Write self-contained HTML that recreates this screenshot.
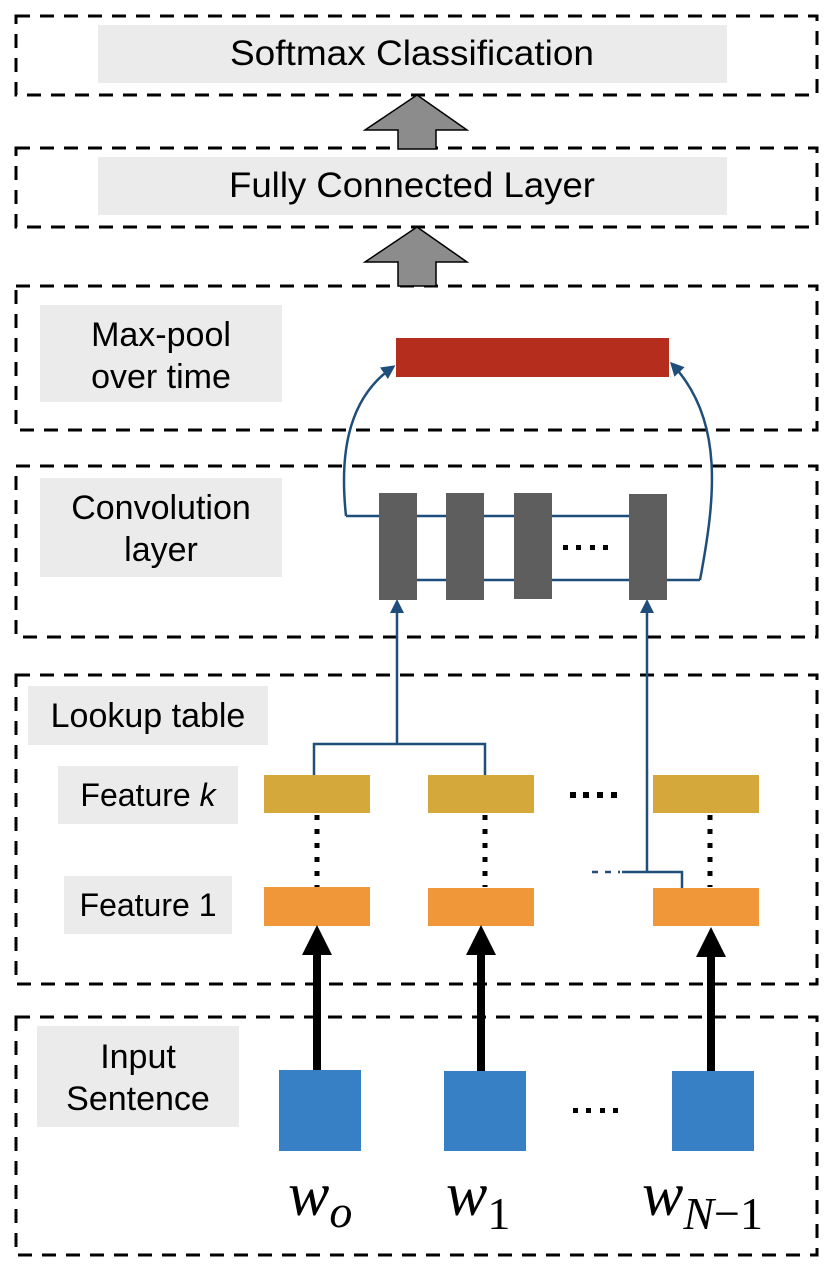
<!DOCTYPE html>
<html><head><meta charset="utf-8"><style>
html,body{margin:0;padding:0;background:#fff;}
svg{display:block;}
.s{font-family:"Liberation Sans",Arial,sans-serif;fill:#000;}
.w{font-family:"Liberation Serif",serif;font-style:italic;fill:#000;}
</style></head><body>
<svg width="828" height="1274" viewBox="0 0 828 1274" xmlns="http://www.w3.org/2000/svg">
<defs>
<marker id="ba" markerWidth="14" markerHeight="14" refX="11" refY="7" orient="auto" markerUnits="userSpaceOnUse">
<path d="M0,0 L14,7 L0,14 z" fill="#1f4e7a"/></marker>
</defs>
<g fill="none" stroke="#000" stroke-width="3" stroke-dasharray="14,10">
<rect x="16" y="16" width="801" height="79"/>
<rect x="16" y="148" width="801" height="79"/>
<rect x="16" y="286" width="801" height="144"/>
<rect x="16" y="466" width="801" height="171"/>
<rect x="16" y="675" width="801" height="309"/>
<rect x="16" y="1017" width="801" height="238"/>
</g>
<g fill="#ebebeb">
<rect x="98" y="25" width="629" height="58"/>
<rect x="98" y="157" width="629" height="58"/>
<rect x="40" y="305" width="242" height="97"/>
<rect x="40" y="478" width="242" height="99"/>
<rect x="28" y="686" width="240" height="59"/>
<rect x="58" y="766" width="180" height="58"/>
<rect x="64" y="876" width="168" height="58"/>
<rect x="37" y="1026" width="202" height="101"/>
</g>
<g class="s" font-size="34" text-anchor="middle">
<text class="s" x="412" y="65" font-size="35" textLength="364" lengthAdjust="spacingAndGlyphs">Softmax Classification</text>
<text class="s" x="412" y="197" font-size="35" textLength="366" lengthAdjust="spacingAndGlyphs">Fully Connected Layer</text>
<text class="s" x="161" y="346">Max-pool</text>
<text class="s" x="161" y="388">over time</text>
<text class="s" x="161" y="519">Convolution</text>
<text class="s" x="161" y="561">layer</text>
<text class="s" x="148" y="727">Lookup table</text>
<text class="s" x="148" y="806" font-size="32">Feature <tspan font-style="italic">k</tspan></text>
<text class="s" x="148" y="916" font-size="32">Feature 1</text>
<text class="s" x="138" y="1068">Input</text>
<text class="s" x="138" y="1110">Sentence</text>
</g>
<g fill="#8c8c8c" stroke="#000" stroke-width="1.5">
<path d="M417,95 L467,130 L436,130 L436,149 L398,149 L398,130 L365,130 Z"/>
<path d="M417,227 L467,262 L436,262 L436,286 L398,286 L398,262 L365,262 Z"/>
</g>
<rect x="396" y="338" width="273" height="39" fill="#b52e1d"/>
<g fill="none" stroke="#1f4e7a" stroke-width="2.5">
<line x1="346" y1="516" x2="630" y2="516"/>
<line x1="417" y1="580" x2="700" y2="580"/>
<path d="M346,516 C340,460 345,400 393,367" marker-end="url(#ba)"/>
<path d="M700,580 C715,500 725,420 672,364" marker-end="url(#ba)"/>
<line x1="397" y1="744" x2="397" y2="602" marker-end="url(#ba)"/>
<line x1="647" y1="872" x2="647" y2="602" marker-end="url(#ba)"/>
<path d="M314,776 L314,744 L485,744 L485,776"/>
<path d="M622,872 L682,872 L682,888"/>
<line x1="592" y1="872" x2="620" y2="872" stroke-dasharray="6,7"/>
</g>
<g fill="#5e5e5e">
<rect x="379" y="493" width="38" height="107"/>
<rect x="446" y="493" width="38" height="107"/>
<rect x="514" y="493" width="38" height="106"/>
<rect x="629" y="494" width="38" height="106"/>
</g>
<g fill="#000">
<rect x="563" y="545" width="5" height="5"/><rect x="576" y="545" width="5" height="5"/><rect x="590" y="545" width="5" height="5"/><rect x="603" y="545" width="5" height="5"/>
<rect x="570" y="792" width="6" height="6"/><rect x="583" y="792" width="6" height="6"/><rect x="597" y="792" width="6" height="6"/><rect x="611" y="792" width="6" height="6"/>
<rect x="573" y="1108" width="5" height="5"/><rect x="586" y="1108" width="5" height="5"/><rect x="600" y="1108" width="5" height="5"/><rect x="613" y="1108" width="5" height="5"/>
</g>
<g fill="#d4a83a">
<rect x="264" y="775" width="106" height="38"/>
<rect x="428" y="775" width="106" height="38"/>
<rect x="653" y="775" width="106" height="38"/>
</g>
<g fill="#f09839">
<rect x="264" y="887" width="106" height="39"/>
<rect x="428" y="888" width="106" height="38"/>
<rect x="653" y="888" width="106" height="38"/>
</g>
<g stroke="#000" stroke-width="5" stroke-dasharray="5,9">
<line x1="317" y1="815" x2="317" y2="887"/>
<line x1="485" y1="815" x2="485" y2="887"/>
<line x1="710" y1="815" x2="710" y2="887"/>
</g>
<g fill="#000">
<rect x="313" y="952" width="8" height="120"/><path d="M317,925 L332,955 L302,955 Z"/>
<rect x="477" y="952" width="8" height="120"/><path d="M481,925 L496,955 L466,955 Z"/>
<rect x="707" y="955" width="8" height="116"/><path d="M711,927 L726,957 L696,957 Z"/>
</g>
<g fill="#3780c5">
<rect x="279" y="1070" width="82" height="81"/>
<rect x="444" y="1071" width="82" height="80"/>
<rect x="672" y="1071" width="82" height="80"/>
</g>
<text class="w" x="288" y="1215" font-size="62">w<tspan font-size="46" dy="12">o</tspan></text>
<text class="w" x="446" y="1215" font-size="62">w<tspan font-style="normal" font-size="46" dy="14">1</tspan></text>
<text class="w" x="642" y="1215" font-size="62">w<tspan font-size="46" dy="14">N</tspan><tspan font-style="normal" font-size="46">−1</tspan></text>
</svg>
</body></html>
